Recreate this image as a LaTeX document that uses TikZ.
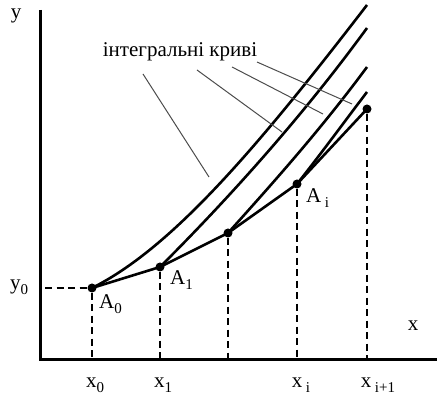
\documentclass[tikz,border=0pt]{standalone}
\usepackage{fontspec}
\setmainfont{Liberation Serif}
\newcommand\sbs[1]{\raisebox{-0.5ex}{\fontsize{15}{15}\selectfont #1}}
\begin{document}
\begin{tikzpicture}[x=1pt,y=-1pt,
  axis/.style={line width=3pt},
  curve/.style={line width=2.6pt},
  seg/.style={line width=2.6pt},
  drop/.style={line width=2pt, dash pattern=on 7pt off 4.5pt},
  leader/.style={line width=1pt, black!70},
  dot/.style={circle, fill=black, inner sep=0pt, minimum size=9pt},
  lab/.style={font=\fontsize{21}{21}\selectfont, inner sep=0pt}]
\useasboundingbox (0,0) rectangle (437,398);
% axes
\coordinate (O) at (40,360);
\coordinate (Ytop) at (40,10);
\coordinate (Xend) at (437,360);
\draw[axis] (Ytop) -- (O) -- (Xend);
\node[lab] (ylab) at (16,16) {y};
\node[lab] (xlab) at (413,326) {x};
% points
\node[dot] (A0) at (92,288) {};
\node[dot] (A1) at (160,267) {};
\node[dot] (A2) at (228,233) {};
\node[dot] (Ai) at (297,184) {};
\node[dot] (Ai1) at (367,109) {};
% feet on x-axis
\coordinate (F0) at (92,360);
\coordinate (F1) at (160,360);
\coordinate (F2) at (228,360);
\coordinate (Fi) at (297,360);
\coordinate (Fi1) at (367,360);
\coordinate (Y0) at (45,288);
% curve end points
\coordinate (E1) at (367,5);
\coordinate (E2) at (367,28);
\coordinate (E3) at (367,67);
\coordinate (E4) at (367,92);
% integral curves
\draw[curve] (A0.center) .. controls (172,248) and (257,148) .. (E1);
\draw[curve] (A1.center) .. controls (220,207) and (297,124) .. (E2);
\draw[curve] (A2.center) .. controls (273,183) and (322,128) .. (E3);
\draw[curve] (Ai.center) .. controls (320,155) and (345,121) .. (E4);
% Euler polygon
\draw[seg] (A0.center) -- (A1.center) -- (A2.center) -- (Ai.center) -- (Ai1.center);
% dashed drops
\draw[drop] (A0) -- (F0);
\draw[drop] (A1) -- (F1);
\draw[drop] (A2) -- (F2);
\draw[drop] (Ai) -- (Fi);
\draw[drop] (Ai1) -- (Fi1);
\draw[drop] (Y0) -- (A0);
% labels
\node[lab] (y0lab) at (19,287) {y\sbs{0}};
\node[lab, anchor=west] (A0lab) at (99,304) {A\sbs{0}};
\node[lab, anchor=west] (A1lab) at (170,280) {A\sbs{1}};
\node[lab, anchor=west] (Ailab) at (306,198) {A\,\sbs{i}};
\node[lab] (x0lab) at (95,385) {x\sbs{0}};
\node[lab] (x1lab) at (163,385) {x\sbs{1}};
\node[lab] (xilab) at (301,385) {x\,\sbs{i}};
\node[lab] (xi1lab) at (378,385) {x\,\sbs{i+1}};
% caption and leaders
\node[lab] (cap) at (180,52) {інтегральні криві};
\coordinate (L1s) at (143,74);  \coordinate (L1e) at (209,177);
\coordinate (L2s) at (197,70);  \coordinate (L2e) at (282,132);
\coordinate (L3s) at (232,67);  \coordinate (L3e) at (323,114);
\coordinate (L4s) at (257,62);  \coordinate (L4e) at (352,104);
\draw[leader] (L1s) -- (L1e);
\draw[leader] (L2s) -- (L2e);
\draw[leader] (L3s) -- (L3e);
\draw[leader] (L4s) -- (L4e);
\end{tikzpicture}
\end{document}
